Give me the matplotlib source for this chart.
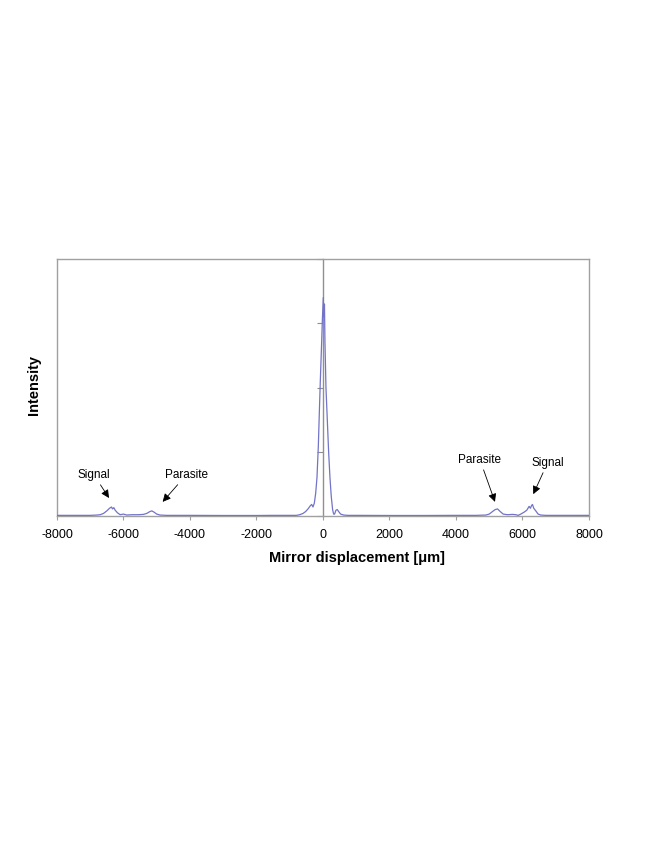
import matplotlib
matplotlib.use('Agg')
import matplotlib.pyplot as plt

plt.rcParams['font.family'] = ['Liberation Sans', 'DejaVu Sans']

# mirror displacement (um) and intensity (arb. units)
disp_um = [-8000, -7500, -7000, -6800, -6700, -6600, -6500, -6420, -6360, -6330,
           -6290, -6250, -6180, -6100, -6000, -5900, -5750, -5550, -5400, -5300,
           -5220, -5150, -5080, -5000, -4900, -4700, -4000, -3000, -2000, -1500,
           -1000, -800, -700, -600, -520, -450, -380, -340, -300, -260,
           -220, -180, -140, -110, -80, -40, -15, 10, 25, 45,
           60, 90, 130, 170, 210, 250, 290, 320, 350, 390,
           430, 470, 530, 620, 750, 1000, 2000, 3000, 4000, 4600,
           4900, 5000, 5100, 5180, 5250, 5330, 5420, 5550, 5700, 5800,
           5870, 5950, 6050, 6130, 6200, 6240, 6270, 6300, 6340, 6400,
           6470, 6550, 6700, 7000, 7500, 8000]
intensity = [0.01, 0.01, 0.01, 0.015, 0.02, 0.04, 0.08, 0.12, 0.14, 0.11,
             0.13, 0.09, 0.05, 0.02, 0.03, 0.015, 0.02, 0.02, 0.025, 0.04,
             0.065, 0.08, 0.06, 0.03, 0.015, 0.01, 0.01, 0.008, 0.008, 0.01,
             0.01, 0.01, 0.02, 0.04, 0.07, 0.11, 0.16, 0.18, 0.14, 0.2,
             0.35, 0.6, 1.08, 1.6, 2.1, 2.7, 3.1, 3.4, 3.1, 3.3,
             2.7, 2.0, 1.5, 1.0, 0.6, 0.3, 0.1, 0.03, 0.03, 0.09,
             0.1, 0.07, 0.03, 0.015, 0.01, 0.01, 0.008, 0.008, 0.01, 0.01,
             0.015, 0.03, 0.07, 0.10, 0.11, 0.07, 0.03, 0.02, 0.025, 0.02,
             0.01, 0.03, 0.06, 0.09, 0.15, 0.12, 0.16, 0.18, 0.12, 0.08,
             0.03, 0.015, 0.01, 0.01, 0.01, 0.01]

x_ticks = [-8000, -6000, -4000, -2000, 0, 2000, 4000, 6000, 8000]
y_ticks = [0, 1, 2, 3, 4]

# annotations: label, arrow tip (data)
notes = [('Signal', -6435, 0.28), ('Parasite', -4822, 0.22),
         ('Parasite', 5173, 0.22), ('Signal', 6326, 0.34)]
note_text_pos = [(-6887, 0.64), (-4111, 0.64), (4722, 0.875), (6757, 0.83)]


def main():
    fig = plt.figure(figsize=(6.64, 8.6), dpi=100)
    ax = fig.add_axes([0.0858, 0.4, 0.8012, 0.2988])

    ax.plot(disp_um, intensity, color='#7373c8', lw=0.9, zorder=3)

    ax.set_xlim(-8000, 8000)
    ax.set_ylim(0, 4)

    frame = '#a0a0a0'
    for s in ['top', 'right', 'bottom']:
        ax.spines[s].set_color(frame)
        ax.spines[s].set_linewidth(1)
    # Excel style: value axis crosses at zero
    ax.spines['left'].set_position(('data', 0))
    ax.spines['left'].set_color('#909090')
    ax.spines['left'].set_linewidth(1)
    ax.axvline(-8000, color=frame, lw=1, clip_on=False)

    ax.set_xticks(x_ticks)
    ax.set_xticklabels([str(t) for t in x_ticks], fontsize=9)
    ax.set_yticks(y_ticks)
    ax.set_yticklabels([])
    ax.tick_params(axis='x', length=3, color=frame, pad=6)
    ax.tick_params(axis='y', length=4, color='#909090', direction='out')

    for (label, xt, yt), (xs, ys) in zip(notes, note_text_pos):
        ax.annotate(label, xy=(xt, yt), xytext=(xs, ys), fontsize=8.5,
                    ha='center', va='center', annotation_clip=False,
                    arrowprops=dict(arrowstyle='-|>', color='black', lw=0.6,
                                    mutation_scale=12, shrinkA=1, shrinkB=0))

    fig.text(0.538, 0.351, 'Mirror displacement [\u03bcm]', fontsize=10.5,
             fontweight='bold', ha='center', va='center')
    fig.text(0.051, 0.552, 'Intensity', fontsize=10.5, fontweight='bold',
             rotation=90, ha='center', va='center')

    fig.savefig('out.png', dpi=100)


if __name__ == '__main__':
    main()
